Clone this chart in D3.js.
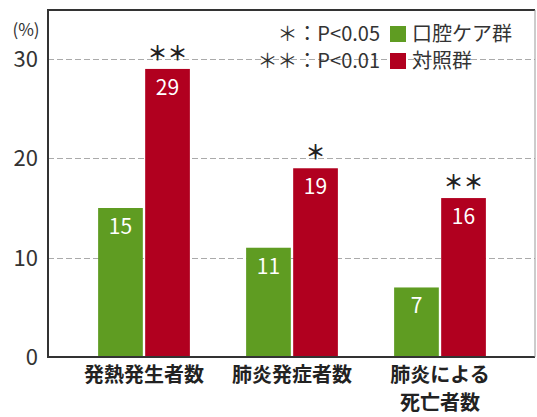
<!DOCTYPE html>
<html lang="ja">
<head>
<meta charset="utf-8">
<title>口腔ケアと発熱・肺炎</title>
<script src="https://d3js.org/d3.v7.min.js"></script>
<style>
  body { margin: 0; background: #fff; }
  svg text { font-family: "Noto Sans CJK JP", "Noto Sans", sans-serif; fill: #333; }
</style>
</head>
<body>
<svg id="chart" width="537" height="417"></svg>
<script>
// data
const categories = [["発熱発生者数"], ["肺炎発症者数"], ["肺炎による", "死亡者数"]];
const series = ["口腔ケア群", "対照群"];
const careValues = [15, 11, 7];
const controlValues = [29, 19, 16];
const marks = ["＊＊", "＊", "＊＊"];
const yTicks = [0, 10, 20, 30];
const notes = ["＊：P<0.05", "＊＊：P<0.01"];

const colors = ["#5f9c22", "#b1001f"];

// frame of the plot
const frame = { left: 48, top: 10, right: 535, bottom: 357 };

const svg = d3.select("#chart");

const y = d3.scaleLinear().domain([0, 30]).range([frame.bottom, 59]);

const x0 = d3.scaleBand()
  .domain(d3.range(categories.length))
  .range([70, 514])
  .paddingInner(0.38)
  .paddingOuter(0.19);

const x1 = d3.scaleBand()
  .domain(series)
  .range([0, x0.bandwidth()])
  .paddingInner(0.05);

// dashed gridlines
svg.append("g")
  .selectAll("line")
  .data(yTicks.filter(d => d > 0))
  .join("line")
  .attr("x1", frame.left)
  .attr("x2", frame.right)
  .attr("y1", d => Math.round(y(d)) + 0.5)
  .attr("y2", d => Math.round(y(d)) + 0.5)
  .attr("stroke", "#aaa")
  .attr("stroke-width", 1)
  .attr("stroke-dasharray", "6,3");

// bars
const rows = categories.map((c, i) => ({ i, values: [careValues[i], controlValues[i]] }));

const groups = svg.append("g")
  .selectAll("g")
  .data(rows)
  .join("g")
  .attr("transform", d => "translate(" + x0(d.i) + ",0)");

groups.selectAll("rect")
  .data(d => d.values.map((v, k) => ({ k, v })))
  .join("rect")
  .attr("x", d => x1(series[d.k]))
  .attr("y", d => y(d.v))
  .attr("width", x1.bandwidth())
  .attr("height", d => y(0) - y(d.v))
  .attr("fill", d => colors[d.k]);

// values inside bars
groups.selectAll("text.val")
  .data(d => d.values.map((v, k) => ({ k, v })))
  .join("text")
  .attr("class", "val")
  .attr("x", d => x1(series[d.k]) + x1.bandwidth() / 2)
  .attr("y", d => y(d.v) + 26)
  .attr("text-anchor", "middle")
  .style("fill", "#fff")
  .style("font-size", "21px")
  .text(d => d.v);

// significance marks above control bars
groups.append("text")
  .attr("x", x1(series[1]) + x1.bandwidth() / 2)
  .attr("y", d => y(d.values[1]) - 15)
  .attr("dy", "0.36em")
  .attr("text-anchor", "middle")
  .style("font-size", "20px")
  .style("font-weight", "bold")
  .style("fill", "#222")
  .text(d => marks[d.i]);

// frame lines
svg.append("path")
  .attr("d", "M" + frame.right + "," + frame.top + "H" + frame.left + "V" + frame.bottom + "H" + frame.right)
  .attr("fill", "none")
  .attr("stroke", "#333")
  .attr("stroke-width", 2);
svg.append("line")
  .attr("x1", frame.right).attr("x2", frame.right)
  .attr("y1", frame.top).attr("y2", frame.bottom)
  .attr("stroke", "#999")
  .attr("stroke-width", 1);

// y tick labels
svg.append("g")
  .selectAll("text")
  .data(yTicks)
  .join("text")
  .attr("x", 38)
  .attr("y", d => y(d))
  .attr("dy", "0.36em")
  .attr("text-anchor", "end")
  .style("font-size", "22px")
  .text(d => d);

svg.append("text")
  .attr("x", 26)
  .attr("y", 30)
  .attr("dy", "0.36em")
  .attr("text-anchor", "middle")
  .style("font-size", "17px")
  .text("(%)");

// category labels
svg.append("g")
  .selectAll("text")
  .data(categories)
  .join("text")
  .attr("x", (d, i) => x0(i) + x0.bandwidth() / 2)
  .attr("y", 375)
  .attr("text-anchor", "middle")
  .style("font-size", "20px")
  .style("font-weight", "bold")
  .style("fill", "#222")
  .selectAll("tspan")
  .data(d => d)
  .join("tspan")
  .attr("x", function () { return d3.select(this.parentNode).attr("x"); })
  .attr("dy", (d, k) => k === 0 ? "0.36em" : "1.4em")
  .text(d => d);

// legend
const legend = svg.append("g");
legend.selectAll("text.note")
  .data(notes)
  .join("text")
  .attr("class", "note")
  .attr("x", 380)
  .attr("y", (d, k) => 34 + k * 27)
  .attr("dy", "0.36em")
  .attr("text-anchor", "end")
  .style("font-size", "20px")
  .text(d => d);

legend.selectAll("rect")
  .data(series)
  .join("rect")
  .attr("x", 390)
  .attr("y", (d, k) => 26 + k * 27)
  .attr("width", 16)
  .attr("height", 16)
  .attr("fill", (d, k) => colors[k]);

legend.selectAll("text.name")
  .data(series)
  .join("text")
  .attr("class", "name")
  .attr("x", 412)
  .attr("y", (d, k) => 34 + k * 27)
  .attr("dy", "0.36em")
  .style("font-size", "20px")
  .text(d => d);
</script>
</body>
</html>
